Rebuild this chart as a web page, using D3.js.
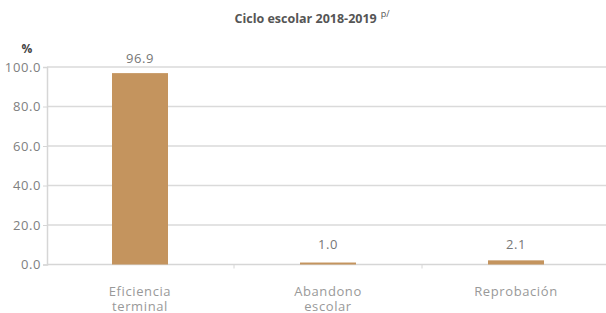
<!DOCTYPE html>
<html>
<head>
<meta charset="utf-8">
<script src="https://cdn.jsdelivr.net/npm/d3@7"></script>
<style>
  body { margin: 0; background: #fff; }
  svg { display: block; font-family: "Open Sans", Lato, sans-serif; }
</style>
</head>
<body>
<svg id="chart" width="606" height="313"></svg>
<script>
const categories = [['Eficiencia', 'terminal'], ['Abandono', 'escolar'], ['Reprobación']];
const values = [96.9, 1.0, 2.1];
const yTicks = [0, 20, 40, 60, 80, 100];

const svg = d3.select('#chart');
const width = 606;

const x = d3.scaleBand()
    .domain(d3.range(values.length))
    .range([46, 610])
    .padding(0);

const y = d3.scaleLinear()
    .domain([0, 100])
    .range([264.5, 67]);

// title
const title = svg.append('text')
    .attr('x', 312)
    .attr('y', 23)
    .attr('text-anchor', 'middle')
    .attr('fill', '#555')
    .style('font-size', '12.5px')
    .style('font-weight', 'bold');
title.append('tspan').text('Ciclo escolar 2018-2019');
title.append('tspan')
    .attr('dx', 4)
    .attr('dy', -6)
    .style('font-size', '9px')
    .style('font-weight', 'normal')
    .text('p/');

// % unit
svg.append('text')
    .attr('x', 27)
    .attr('y', 53)
    .attr('text-anchor', 'middle')
    .attr('fill', '#444')
    .style('font-size', '12px')
    .style('font-weight', 'bold')
    .text('%');

// gridlines
svg.append('g')
    .selectAll('line')
    .data(yTicks.filter(d => d > 0))
    .enter()
    .append('line')
    .attr('x1', 47)
    .attr('x2', width)
    .attr('y1', d => y(d))
    .attr('y2', d => y(d))
    .attr('stroke', '#dadada')
    .attr('stroke-width', 1.5);

// y axis
const yAxis = svg.append('g')
    .attr('transform', 'translate(47,0)')
    .call(d3.axisLeft(y).tickValues(yTicks).tickSize(4).tickPadding(2).tickFormat(d3.format('.1f')));
yAxis.select('.domain').attr('stroke', '#d6d6d6').attr('stroke-width', 1.5);
yAxis.selectAll('.tick line').attr('stroke', '#d6d6d6').attr('stroke-width', 1);
yAxis.selectAll('.tick text')
    .attr('fill', '#808080')
    .style('font-size', '13px')
    .style('letter-spacing', '0.6px')
    .style('font-family', '"Open Sans", sans-serif');

// x axis baseline
svg.append('line')
    .attr('x1', 47)
    .attr('x2', width)
    .attr('y1', y(0))
    .attr('y2', y(0))
    .attr('stroke', '#d6d6d6')
    .attr('stroke-width', 1.5);

svg.append('g')
    .selectAll('line')
    .data(d3.range(1, values.length))
    .enter()
    .append('line')
    .attr('x1', d => x(d))
    .attr('x2', d => x(d))
    .attr('y1', y(0))
    .attr('y2', y(0) + 4)
    .attr('stroke', '#d6d6d6')
    .attr('stroke-width', 1);

// bars
const barW = 56;
svg.append('g')
    .selectAll('rect')
    .data(values)
    .enter()
    .append('rect')
    .attr('x', (d, i) => x(i) + x.bandwidth() / 2 - barW / 2)
    .attr('width', barW)
    .attr('y', d => y(d))
    .attr('height', d => y(0) - y(d))
    .attr('fill', '#c4945e');

// value labels
svg.append('g')
    .selectAll('text')
    .data(values)
    .enter()
    .append('text')
    .attr('x', (d, i) => x(i) + x.bandwidth() / 2)
    .attr('y', d => Math.min(y(d) - 10, y(0) - 16))
    .attr('text-anchor', 'middle')
    .attr('fill', '#777')
    .style('font-size', '13px')
    .style('letter-spacing', '0.6px')
    .text(d => d3.format('.1f')(d));

// category labels
const catLabels = svg.append('g')
    .selectAll('text')
    .data(categories)
    .enter()
    .append('text')
    .attr('x', (d, i) => x(i) + x.bandwidth() / 2)
    .attr('y', 296)
    .attr('text-anchor', 'middle')
    .attr('fill', '#999')
    .style('font-size', '13px')
    .style('letter-spacing', '0.6px');

catLabels.selectAll('tspan')
    .data(d => d)
    .enter()
    .append('tspan')
    .attr('x', function () { return this.parentNode.getAttribute('x'); })
    .attr('dy', (d, i) => i === 0 ? 0 : 15)
    .text(d => d);
</script>
</body>
</html>
